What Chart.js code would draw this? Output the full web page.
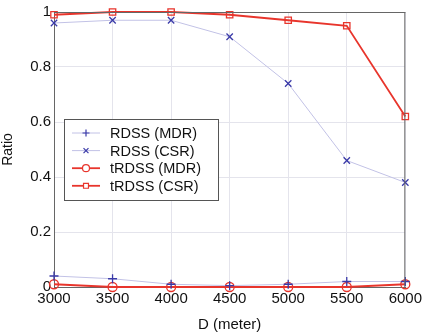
<!DOCTYPE html>
<html>
<head>
<meta charset="utf-8">
<script src="https://cdn.jsdelivr.net/npm/chart.js@4/dist/chart.umd.min.js"></script>
<style>
  html, body { margin: 0; padding: 0; background: #fff; }
  #wrap { width: 425px; height: 334px; }
</style>
</head>
<body>
<div id="wrap"><canvas id="c" width="425" height="334"></canvas></div>
<script>
// Distance D in meters
const distances = [3000, 3500, 4000, 4500, 5000, 5500, 6000];

// Ratio values per scheme
const rdssMdr  = [0.04, 0.03, 0.01, 0.005, 0.01, 0.02, 0.02];
const rdssCsr  = [0.96, 0.97, 0.97, 0.91, 0.74, 0.46, 0.38];
const trdssMdr = [0.01, 0.0, 0.0, 0.0, 0.0, 0.0, 0.01];
const trdssCsr = [0.99, 1.0, 1.0, 0.99, 0.97, 0.95, 0.62];

const seriesLabels = ['RDSS (MDR)', 'RDSS (CSR)', 'tRDSS (MDR)', 'tRDSS (CSR)'];
const yTicks = [0, 0.2, 0.4, 0.6, 0.8, 1];

const FONT = 'Liberation Sans, Arial, sans-serif';
const BLUE_LINE = '#c2c2e6';
const BLUE_MARK = '#3a3aa8';
const RED = '#e8352c';

function pts(vals) { return distances.map((d, i) => ({ x: d, y: vals[i] })); }

function series(label, vals, lineColor, markColor, style, lw) {
  return {
    label, data: pts(vals),
    borderColor: lineColor, borderWidth: lw,
    pointStyle: style, pointRadius: 4.5,
    pointBorderColor: markColor, pointBackgroundColor: 'rgba(0,0,0,0)',
    pointBorderWidth: 1.3, tension: 0, fill: false, clip: false
  };
}

// Boxed legend drawn inside the plot area
const boxLegend = {
  id: 'boxLegend',
  afterDatasetsDraw(chart) {
    const ctx = chart.ctx;
    const x0 = 64, y0 = 119, w = 154, h = 81;
    ctx.save();
    ctx.fillStyle = '#fff';
    ctx.fillRect(x0, y0, w, h);
    ctx.strokeStyle = '#555';
    ctx.lineWidth = 1;
    ctx.strokeRect(x0 + 0.5, y0 + 0.5, w, h);
    ctx.font = '14.5px ' + FONT;
    ctx.textBaseline = 'middle';
    chart.data.datasets.forEach((ds, i) => {
      const y = y0 + 14 + i * 17.6;
      ctx.strokeStyle = ds.borderColor;
      ctx.lineWidth = ds.borderWidth;
      ctx.beginPath();
      ctx.moveTo(72, y); ctx.lineTo(100, y);
      ctx.stroke();
      ctx.lineWidth = 1.2;
      ctx.strokeStyle = ds.pointBorderColor;
      ctx.fillStyle = '#fff';
      Chart.helpers.drawPoint(ctx, { pointStyle: ds.pointStyle, radius: 3.5, borderWidth: 1.2 }, 86, y);
      ctx.fillStyle = '#111';
      ctx.fillText(ds.label, 110, y + 1);
    });
    ctx.restore();
  }
};

new Chart(document.getElementById('c'), {
  type: 'line',
  data: {
    datasets: [
      series(seriesLabels[0], rdssMdr, BLUE_LINE, BLUE_MARK, 'cross', 1),
      series(seriesLabels[1], rdssCsr, BLUE_LINE, BLUE_MARK, 'crossRot', 1),
      series(seriesLabels[2], trdssMdr, RED, RED, 'circle', 1.8),
      series(seriesLabels[3], trdssCsr, RED, RED, 'rect', 1.8)
    ]
  },
  options: {
    responsive: false,
    animation: false,
    layout: { padding: { top: 12, right: 18, left: 0, bottom: 0 } },
    plugins: { legend: { display: false }, tooltip: { enabled: false } },
    scales: {
      x: {
        type: 'linear', min: 3000, max: 6000,
        afterBuildTicks(s) { s.ticks = distances.map(v => ({ value: v })); },
        afterFit(s) { s.height = 47; },
        grid: { color: '#e4e4ec', drawTicks: false },
        border: { color: '#666', width: 1 },
        ticks: { color: '#111', font: { family: FONT, size: 15 }, padding: 3, maxRotation: 0,
                 callback: v => String(v) },
        title: { display: true, text: 'D (meter)', color: '#111', font: { family: FONT, size: 15 }, padding: { top: 2, bottom: 0 } }
      },
      y: {
        min: 0, max: 1,
        afterBuildTicks(s) { s.ticks = yTicks.map(v => ({ value: v })); },
        afterFit(s) { s.width = 54; },
        grid: { color: '#e4e4ec', drawTicks: false },
        border: { color: '#666', width: 1 },
        ticks: { color: '#111', font: { family: FONT, size: 15 }, padding: 3,
                 callback: v => String(Math.round(v * 10) / 10) },
        title: { display: true, text: 'Ratio', color: '#111', font: { family: FONT, size: 14 }, padding: { top: 0, bottom: 4 } }
      }
    }
  },
  plugins: [boxLegend, {
    id: 'frame',
    afterDraw(chart) {
      const a = chart.chartArea, ctx = chart.ctx;
      ctx.save();
      ctx.strokeStyle = '#666'; ctx.lineWidth = 1;
      ctx.beginPath();
      ctx.moveTo(a.left, a.top + 0.5); ctx.lineTo(a.right, a.top + 0.5);
      ctx.moveTo(a.right - 0.5, a.top); ctx.lineTo(a.right - 0.5, a.bottom);
      ctx.stroke();
      ctx.restore();
    }
  }]
});
</script>
</body>
</html>
